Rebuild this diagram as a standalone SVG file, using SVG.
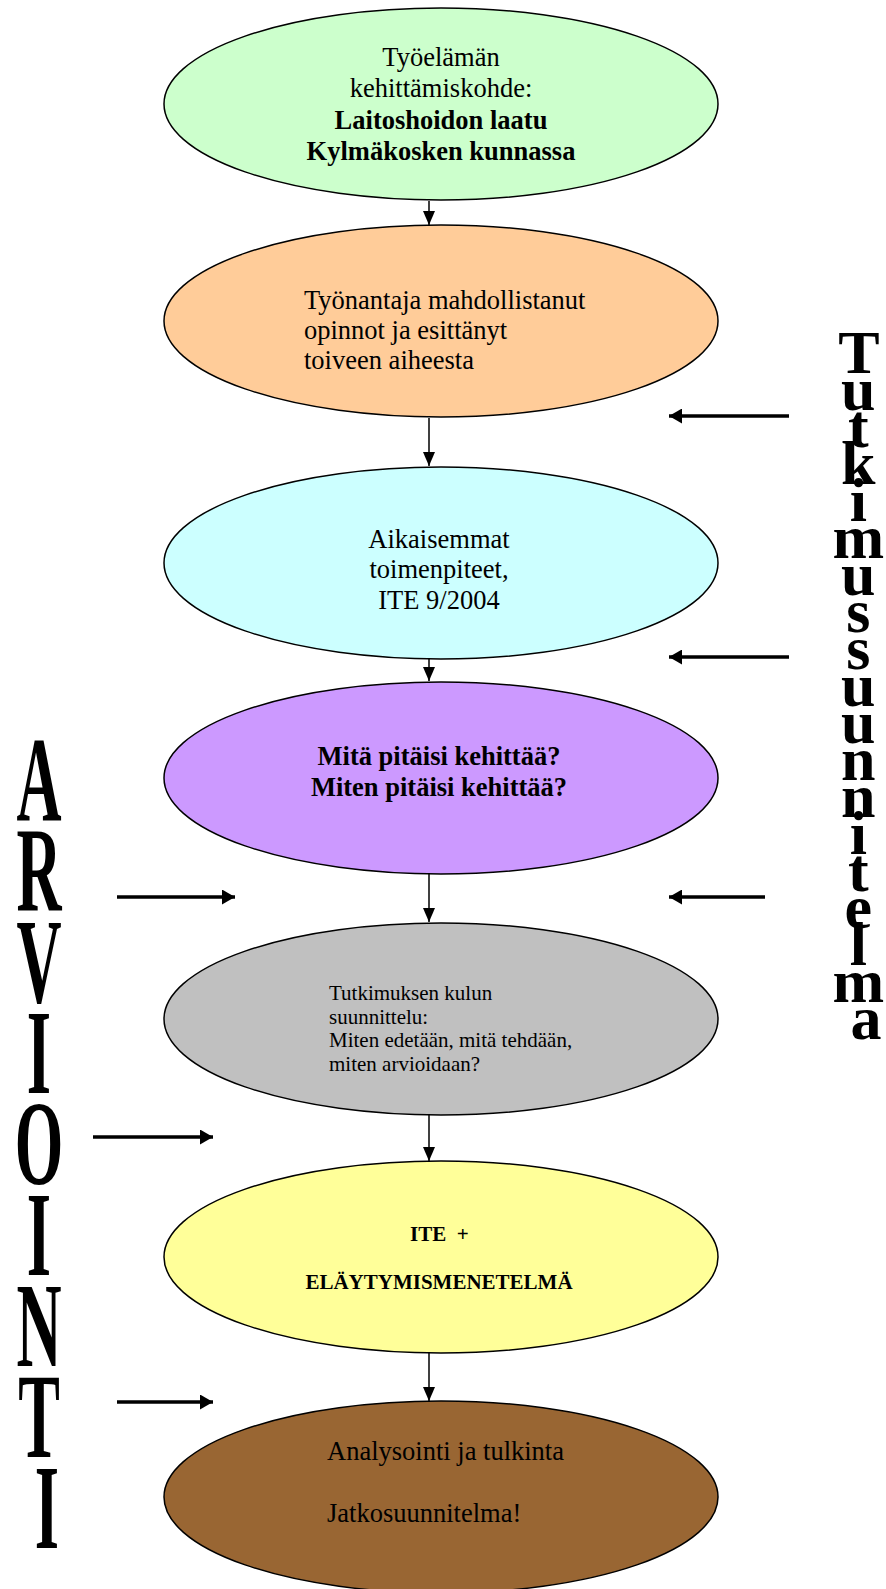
<svg xmlns="http://www.w3.org/2000/svg" width="886" height="1589" viewBox="0 0 886 1589">
<defs>
<style>
.node{stroke:#000;stroke-width:1.5}
.t{font-family:"Liberation Serif","Times New Roman",serif;font-size:26.5px;fill:#000}
.ts{font-family:"Liberation Serif","Times New Roman",serif;font-size:21px;fill:#000}
.b{font-weight:bold}
.c{text-anchor:middle}
.conn{stroke:#000;stroke-width:1.5;fill:none}
.side{stroke:#000;stroke-width:3.5;fill:none}
.vt{font-family:"Liberation Serif","Times New Roman",serif;font-weight:bold;font-size:62px;text-anchor:middle;fill:#000}
.vl{font-family:"Liberation Serif","Times New Roman",serif;font-weight:bold;font-size:120px;text-anchor:middle;fill:#000}
</style>
<marker id="ah" markerUnits="userSpaceOnUse" markerWidth="14" markerHeight="14" viewBox="0 0 14 12" refX="14" refY="6" orient="auto">
<path d="M0,0 L14,6 L0,12 Z" fill="#000"/>
</marker>
<marker id="ahs" markerUnits="userSpaceOnUse" markerWidth="14" markerHeight="15" viewBox="0 0 13 15" refX="13" refY="7.5" orient="auto">
<path d="M0,0 L13,7.5 L0,15 Z" fill="#000"/>
</marker>
</defs>
<rect width="886" height="1589" fill="#fff"/>

<g id="connectors">
<line class="conn" x1="429" y1="201" x2="429" y2="225" marker-end="url(#ah)"/>
<line class="conn" x1="429" y1="418" x2="429" y2="466" marker-end="url(#ah)"/>
<line class="conn" x1="429" y1="659" x2="429" y2="681" marker-end="url(#ah)"/>
<line class="conn" x1="429" y1="874" x2="429" y2="922" marker-end="url(#ah)"/>
<line class="conn" x1="429" y1="1115" x2="429" y2="1161" marker-end="url(#ah)"/>
<line class="conn" x1="429" y1="1353" x2="429" y2="1401" marker-end="url(#ah)"/>
<line class="side" x1="789" y1="416" x2="669" y2="416" marker-end="url(#ahs)"/>
<line class="side" x1="789" y1="657" x2="669" y2="657" marker-end="url(#ahs)"/>
<line class="side" x1="765" y1="897" x2="669" y2="897" marker-end="url(#ahs)"/>
<line class="side" x1="117" y1="897" x2="235" y2="897" marker-end="url(#ahs)"/>
<line class="side" x1="93" y1="1137" x2="213" y2="1137" marker-end="url(#ahs)"/>
<line class="side" x1="117" y1="1402" x2="213" y2="1402" marker-end="url(#ahs)"/>
</g>

<g id="n1">
<ellipse class="node" cx="441" cy="104" rx="277" ry="96" fill="#CCFFCC"/>
<text class="t c" x="441" y="66">Työelämän</text>
<text class="t c" x="441" y="97">kehittämiskohde:</text>
<text class="t c b" x="441" y="129">Laitoshoidon laatu</text>
<text class="t c b" x="441" y="160">Kylmäkosken kunnassa</text>
</g>

<g id="n2">
<ellipse class="node" cx="441" cy="321" rx="277" ry="96" fill="#FFCC99"/>
<text class="t" x="304" y="309">Työnantaja mahdollistanut</text>
<text class="t" x="304" y="339">opinnot ja esittänyt</text>
<text class="t" x="304" y="369">toiveen aiheesta</text>
</g>

<g id="n3">
<ellipse class="node" cx="441" cy="563" rx="277" ry="96" fill="#CCFFFF"/>
<text class="t c" x="439" y="548">Aikaisemmat</text>
<text class="t c" x="439" y="578">toimenpiteet,</text>
<text class="t c" x="439" y="609">ITE 9/2004</text>
</g>

<g id="n4">
<ellipse class="node" cx="441" cy="778" rx="277" ry="96" fill="#CC99FF"/>
<text class="t c b" x="439" y="765">Mitä pitäisi kehittää?</text>
<text class="t c b" x="439" y="796">Miten pitäisi kehittää?</text>
</g>

<g id="n5">
<ellipse class="node" cx="441" cy="1019" rx="277" ry="96" fill="#C0C0C0"/>
<text class="ts" x="329" y="1000">Tutkimuksen kulun</text>
<text class="ts" x="329" y="1024">suunnittelu:</text>
<text class="ts" x="329" y="1047">Miten edetään, mitä tehdään,</text>
<text class="ts" x="329" y="1071">miten arvioidaan?</text>
</g>

<g id="n6">
<ellipse class="node" cx="441" cy="1257" rx="277" ry="96" fill="#FFFF99"/>
<text class="ts b" x="410" y="1241" xml:space="preserve">ITE  +</text>
<text class="ts b c" x="439" y="1289">ELÄYTYMISMENETELMÄ</text>
</g>

<g id="n7">
<ellipse class="node" cx="441" cy="1497" rx="277" ry="96" fill="#996633"/>
<text class="t" x="327" y="1460">Analysointi ja tulkinta</text>
<text class="t" x="327" y="1522">Jatkosuunnitelma!</text>
</g>

<g id="tutkimussuunnitelma">
<text class="vt">
<tspan x="866" y="373">T</tspan>
<tspan x="866" y="410">u</tspan>
<tspan x="866" y="447">t</tspan>
<tspan x="866" y="484">k</tspan>
<tspan x="866" y="521">i</tspan>
<tspan x="866" y="558">m</tspan>
<tspan x="866" y="595">u</tspan>
<tspan x="866" y="632">s</tspan>
<tspan x="866" y="669">s</tspan>
<tspan x="866" y="706">u</tspan>
<tspan x="866" y="743">u</tspan>
<tspan x="866" y="780">n</tspan>
<tspan x="866" y="817">n</tspan>
<tspan x="866" y="854">i</tspan>
<tspan x="866" y="891">t</tspan>
<tspan x="866" y="928">e</tspan>
<tspan x="866" y="965">l</tspan>
<tspan x="866" y="1002">m</tspan>
<tspan x="866" y="1039">a</tspan>
</text>
</g>

<g id="arviointi">
<text class="vl" transform="scale(0.52,1)">
<tspan x="90" y="820">A</tspan>
<tspan x="90" y="911">R</tspan>
<tspan x="90" y="1002">V</tspan>
<tspan x="90" y="1093">I</tspan>
<tspan x="90" y="1184">O</tspan>
<tspan x="90" y="1275">I</tspan>
<tspan x="90" y="1366">N</tspan>
<tspan x="90" y="1457">T</tspan>
<tspan x="90" y="1548">I</tspan>
</text>
</g>
</svg>
